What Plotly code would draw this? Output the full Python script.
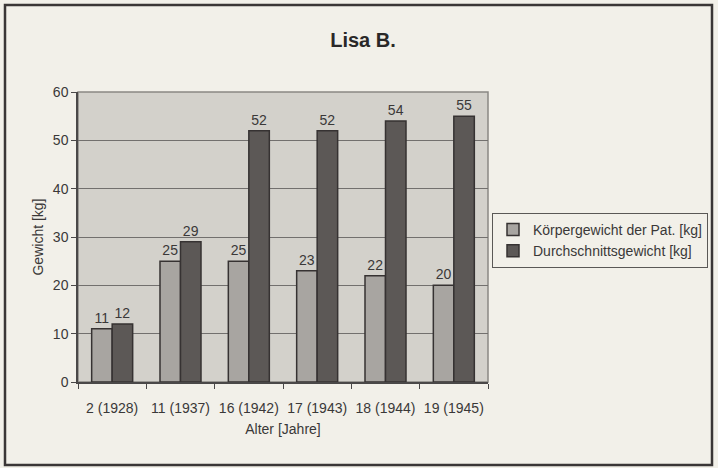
import plotly.graph_objects as go

categories = ["2 (1928)", "11 (1937)", "16 (1942)", "17 (1943)", "18 (1944)", "19 (1945)"]
patient_weight = [11, 25, 25, 23, 22, 20]
average_weight = [12, 29, 52, 52, 54, 55]
series_names = ["Körpergewicht der Pat. [kg]", "Durchschnittsgewicht [kg]"]

FONT = "Liberation Sans, Arial, sans-serif"
PAPER = "#f2f0e9"
PLOT = "#d3d1cb"
TXT = "#3a3838"
FS = 14

fig = go.Figure()
fig.add_trace(go.Bar(
    x=categories, y=patient_weight, name=series_names[0],
    marker=dict(color="#a8a5a1", line=dict(color="#363232", width=1.5)),
    text=patient_weight, textposition="outside", cliponaxis=False,
    textfont=dict(family=FONT, size=FS, color=TXT),
))
fig.add_trace(go.Bar(
    x=categories, y=average_weight, name=series_names[1],
    marker=dict(color="#5c5856", line=dict(color="#363232", width=1.5)),
    text=average_weight, textposition="outside", cliponaxis=False,
    textfont=dict(family=FONT, size=FS, color=TXT),
))

L, R, T, B = 78, 230, 92, 86
W, H = 718, 468
pw, ph = W - L - R, H - T - B

def px_x(x):
    return (x - L) / pw

def px_y(y):
    return (H - B - y) / ph

fig.update_layout(
    width=W, height=H,
    margin=dict(l=L, r=R, t=T, b=B, autoexpand=False),
    paper_bgcolor=PAPER, plot_bgcolor=PLOT,
    font=dict(family=FONT, size=FS, color=TXT),
    barmode="group", bargap=0.4, bargroupgap=0,
    title=dict(text="<b>Lisa B.</b>", x=px_x(363), xref="paper", xanchor="center",
               y=1 - 40 / H, yanchor="middle", font=dict(family=FONT, size=20, color="#2a2828")),
    showlegend=True,
    legend=dict(x=px_x(492), y=px_y(213), xanchor="left", yanchor="top",
                bgcolor=PAPER, bordercolor="#5a5856", borderwidth=1,
                font=dict(family=FONT, size=FS, color=TXT),
                itemwidth=30, tracegroupgap=0),
    xaxis=dict(
        showline=True, linecolor="#4a4848", linewidth=1.5,
        ticks="outside", tickson="boundaries", ticklen=5, tickcolor="#4a4848",
        tickangle=0, ticklabelstandoff=12,
        tickfont=dict(family=FONT, size=FS, color=TXT),
        title=dict(text="Alter [Jahre]", standoff=10, font=dict(family=FONT, size=FS, color=TXT)),
    ),
    yaxis=dict(
        range=[0, 60], dtick=10,
        showline=True, linecolor="#4a4848", linewidth=1.5,
        ticks="outside", ticklen=5, tickcolor="#4a4848",
        showgrid=True, gridcolor="#72706e", gridwidth=1,
        tickfont=dict(family=FONT, size=FS, color=TXT),
        title=dict(text="Gewicht [kg]", standoff=6, font=dict(family=FONT, size=FS, color=TXT)),
        zeroline=False,
    ),
    shapes=[
        dict(type="rect", xref="paper", yref="paper",
             x0=px_x(5), x1=px_x(712), y0=px_y(465), y1=px_y(5),
             line=dict(color="#3a3636", width=2.5), fillcolor="rgba(0,0,0,0)", layer="below"),
        dict(type="rect", xref="paper", yref="paper", x0=0, x1=1, y0=0, y1=1,
             line=dict(color="#8a8884", width=1.5), fillcolor="rgba(0,0,0,0)", layer="below"),
    ],
)

fig.write_html("out.html", config={"displayModeBar": False},
               post_script="document.body.style.margin='0';document.body.style.padding='0';")
